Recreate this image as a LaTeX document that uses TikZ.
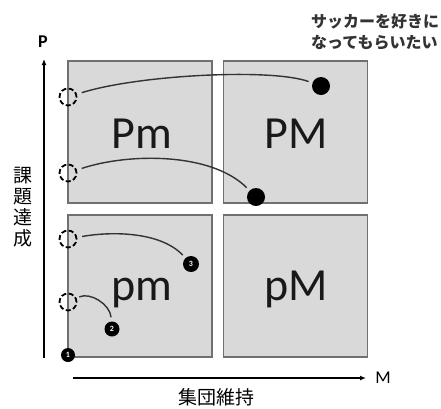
\documentclass[tikz,border=0pt]{standalone}
\usepackage{fontspec}
\setmainfont{Carlito}
\newfontfamily\jp{Noto Sans CJK JP}
\usetikzlibrary{arrows.meta}
\definecolor{boxfill}{HTML}{D9D9D9}
\definecolor{boxedge}{HTML}{707070}
\definecolor{curvecol}{HTML}{333333}
\definecolor{notecol}{HTML}{333333}
\begin{document}
\begin{tikzpicture}[x=1pt,y=-1pt,
  quad/.style={draw=boxedge, fill=boxfill, line width=1.8pt, minimum width=144pt, minimum height=142pt, inner sep=0pt},
  qlabel/.style={font=\fontsize{46}{48}\selectfont, text=black!90, inner sep=0pt, anchor=base},
  start/.style={circle, draw=black, dash pattern=on 5pt off 2.5pt, line width=1.8pt, minimum size=17pt, inner sep=0pt},
  bigdot/.style={circle, fill=black, minimum size=18pt, inner sep=0pt},
  numdot/.style={circle, fill=black, minimum size=15pt, inner sep=0pt, text=white, font=\fontsize{8}{8}\selectfont\bfseries},
  curve/.style={draw=curvecol, line width=1.4pt, shorten <=5pt, shorten >=4pt},
  axis/.style={draw=black, line width=1.8pt, -{Latex[length=6pt,width=5pt]}},
  axlabel/.style={font=\fontsize{18}{18}\selectfont, inner sep=0pt},
  jplabel/.style={font=\jp\fontsize{19}{21}\selectfont, inner sep=0pt, align=center}
]
\useasboundingbox (0,0) rectangle (441,408);
% quadrants
\node[quad] (Pm) at (140,132) {};
\node[quad] (PM) at (295.5,132) {};
\node[quad] (pm) at (140,286) {};
\node[quad] (pM) at (295.5,286) {};
\node[qlabel] at (142,148) {Pm};
\node[qlabel] at (296,148) {PM};
\node[qlabel] at (142,300) {pm};
\node[qlabel] at (296,300) {pM};
% axes
\coordinate (yb) at (44,358);
\coordinate (yt) at (44,59);
\coordinate (xl) at (73,378);
\coordinate (xr) at (366,378);
\draw[axis] (yb) -- (yt);
\draw[axis] (xl) -- (xr);
\node[axlabel, font=\fontsize{18}{18}\selectfont\bfseries] (P) at (43,42) {P};
\node[axlabel] (M) at (383,378) {M};
\node[jplabel] (xlab) at (216,397) {集団維持};
\node[jplabel] (ylab) at (23,207) {課\\題\\達\\成};
\node[font=\jp\bfseries\fontsize{16}{20.5}\selectfont, text=notecol, anchor=north west, inner sep=0pt, align=left] (note) at (311,14) {サッカーを好きに\\なってもらいたい};
% start points
\node[start] (s1) at (68,97) {};
\node[start] (s2) at (68,173) {};
\node[start] (s3) at (68,239) {};
\node[start] (s4) at (68,302) {};
% end points
\node[bigdot] (e1) at (321,86) {};
\node[bigdot] (e2) at (256,197) {};
\node[numdot, minimum size=16pt] (n3) at (191,264) {3};
\node[numdot] (n2) at (112,329) {2};
\node[numdot, minimum size=14pt] (n1) at (68,355) {1};
% curves
\draw[curve] (s1) .. controls +(70,-22) and +(-50,-18) .. (e1);
\draw[curve] (s2) .. controls +(60,-20) and +(-45,-45) .. (e2);
\draw[curve] (s3) .. controls +(45,-8) and +(-30,-32) .. (n3);
\draw[curve, shorten <=3pt] (s4) .. controls +(22,-10) and +(-2,-25) .. (n2);
\end{tikzpicture}
\end{document}
